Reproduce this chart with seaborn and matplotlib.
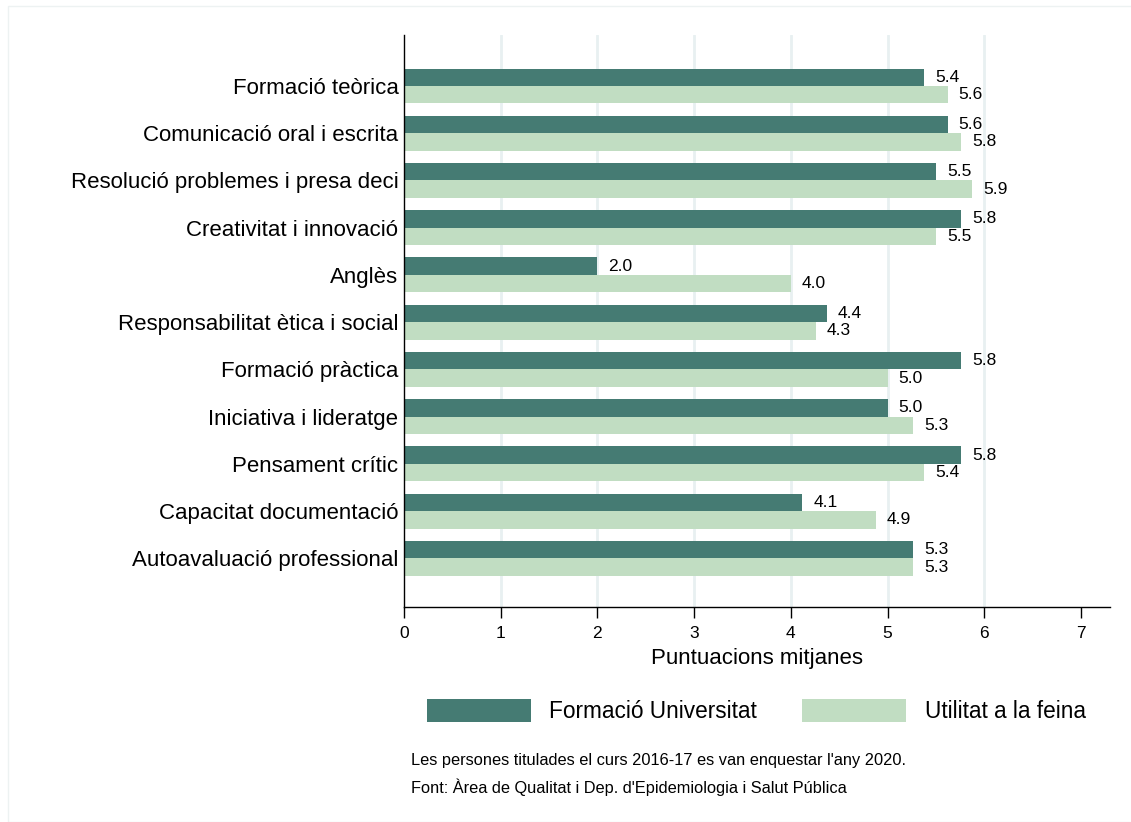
import matplotlib
matplotlib.use("Agg")
import matplotlib.pyplot as plt
import seaborn as sns
import pandas as pd
from matplotlib.patches import Rectangle

categories = ["Formació teòrica", "Comunicació oral i escrita",
              "Resolució problemes i presa deci", "Creativitat i innovació",
              "Anglès", "Responsabilitat ètica i social", "Formació pràctica",
              "Iniciativa i lideratge", "Pensament crític",
              "Capacitat documentació", "Autoavaluació professional"]
formacio_universitat = [5.38, 5.62, 5.50, 5.76, 2.00, 4.37, 5.76, 5.00, 5.76, 4.12, 5.26]
utilitat_feina = [5.62, 5.76, 5.87, 5.50, 4.00, 4.26, 5.00, 5.26, 5.38, 4.88, 5.26]
series_names = ["Formació Universitat", "Utilitat a la feina"]
xticks = [0, 1, 2, 3, 4, 5, 6, 7]
xlabel = "Puntuacions mitjanes"
footer1 = "Les persones titulades el curs 2016-17 es van enquestar l'any 2020."
footer2 = "Font: Àrea de Qualitat i Dep. d'Epidemiologia i Salut Pública"

df = pd.DataFrame({
    "cat": categories * 2,
    "val": formacio_universitat + utilitat_feina,
    "serie": [series_names[0]] * len(categories) + [series_names[1]] * len(categories),
})

sns.set_theme(style="white")
plt.rcParams["font.family"] = ["Liberation Sans", "DejaVu Sans"]
plt.rcParams["text.color"] = "black"
plt.rcParams["axes.labelcolor"] = "black"
plt.rcParams["xtick.color"] = "black"
plt.rcParams["ytick.color"] = "black"

W, H = 1131, 822
fig = plt.figure(figsize=(W / 100, H / 100), dpi=100)
fig.patch.set_facecolor("white")
ax = fig.add_axes([404 / W, 1 - 607 / H, (1110 - 404) / W, (607 - 35) / H])

colors = ["#457b73", "#c1ddc2"]
sns.barplot(data=df, y="cat", x="val", hue="serie", orient="h", order=categories,
            hue_order=series_names, palette=colors, saturation=1, width=0.74,
            gap=0, linewidth=0, ax=ax, legend=True, errorbar=None)

for cont in ax.containers:
    ax.bar_label(cont, fmt="%.1f", padding=8, fontsize=12.5, color="black")

ax.set_xlim(0, 7.3)
ax.set_ylim(10 + 1.03, -1.08)
ax.set_xticks(xticks)
ax.set_xticklabels([str(t) for t in xticks], fontsize=12.5)
ax.set_ylabel("")
ax.set_xlabel(xlabel, fontsize=16, labelpad=5)
ax.tick_params(axis="y", length=0, pad=4, labelsize=16, colors="black")
ax.tick_params(axis="x", length=8, width=1, color="black", direction="out",
               pad=6, bottom=True)

ax.xaxis.grid(True, color="#e8f0f1", linewidth=2)
ax.set_axisbelow(True)
gl = ax.get_xgridlines()
gl[0].set_visible(False)
gl[-1].set_visible(False)

for s in ["top", "right"]:
    ax.spines[s].set_visible(False)
for s in ["left", "bottom"]:
    ax.spines[s].set_color("black")
    ax.spines[s].set_linewidth(1)

handles, labels = ax.get_legend_handles_labels()
ax.get_legend().remove()
fig.legend(handles, labels, loc="center left", bbox_to_anchor=(427 / W, 1 - 711 / H),
           ncol=2, frameon=False, fontsize=16.3, handlelength=4.6, handleheight=1.2,
           handletextpad=0.8, columnspacing=2.0, borderpad=0, borderaxespad=0)

fig.text(411 / W, 1 - 760 / H, footer1, fontsize=11.8, va="center", ha="left")
fig.text(411 / W, 1 - 787 / H, footer2, fontsize=11.8, va="center", ha="left")

fig.patches.append(Rectangle((8 / W, 0), 1, 1 - 6 / H, transform=fig.transFigure,
                             fill=False, edgecolor="#edf2f2", linewidth=1))

fig.savefig("out.png", dpi=100)
